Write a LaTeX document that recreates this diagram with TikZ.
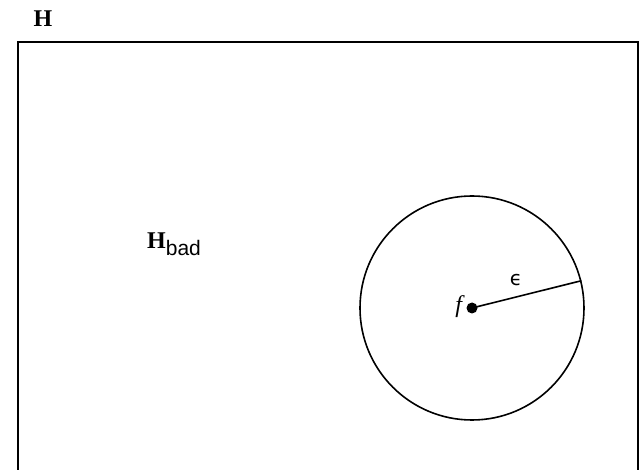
\documentclass[tikz,border=0pt]{standalone}
\usepackage{fontspec}
\setmainfont{Liberation Serif}
\setsansfont{Liberation Sans}
\newfontfamily\epsfont{DejaVu Sans}
\begin{document}
\begin{tikzpicture}[x=1pt,y=-1pt,
  edge/.style={line width=1.6pt, black},
  lbl/.style={inner sep=0pt, font=\fontsize{24}{28}\selectfont}]
\useasboundingbox (0,0) rectangle (643,470);
\clip (0,0) rectangle (643,470);
\node[lbl] (H) at (43,19) {\textbf{H}};
\draw[edge] (18,490) -- (18,42) -- (638,42) -- (638,490);
\node[lbl, anchor=west] (Hbad) at (147,244) {\textbf{H}\raisebox{-7pt}{\fontsize{21}{24}\selectfont\sffamily bad}};
\node[circle, draw, edge, minimum size=224pt, inner sep=0pt] (ball) at (472,308) {};
\node[circle, fill=black, inner sep=0pt, minimum size=11pt] (f) at (472,308) {};
\coordinate (r) at (ball.14);
\draw[edge] (f.center) -- (r);
\node[lbl, anchor=east] (flbl) at (465,307) {\textit{f}};
\node[inner sep=0pt, font=\epsfont\fontsize{20}{24}\selectfont] (eps) at (516,280) {ϵ};
\end{tikzpicture}
\end{document}
